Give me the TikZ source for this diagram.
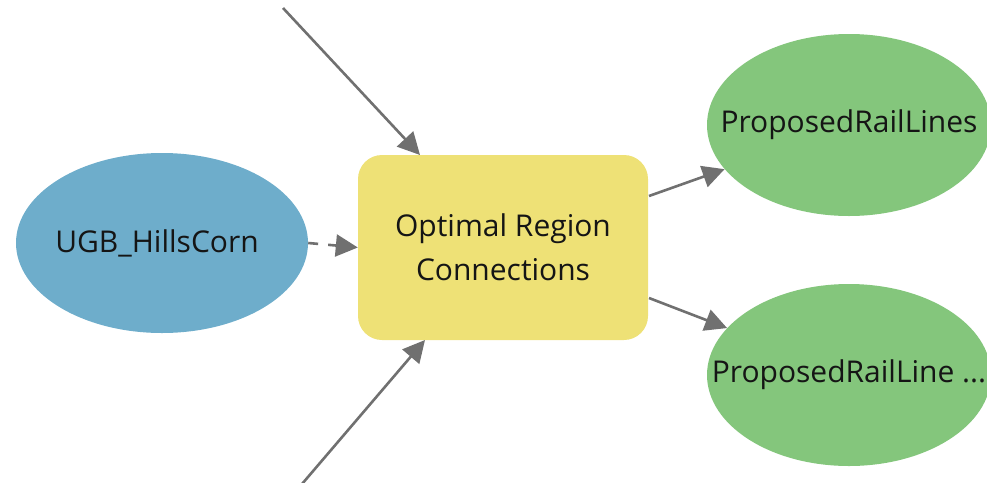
\documentclass[tikz,border=0pt]{standalone}
\usepackage{fontspec}
\setmainfont{Open Sans}
\usetikzlibrary{arrows.meta,shapes.geometric}
\definecolor{bluefill}{HTML}{6EADCB}
\definecolor{yellowfill}{HTML}{EEE176}
\definecolor{greenfill}{HTML}{84C67C}
\definecolor{arrowgray}{HTML}{707070}
\definecolor{textcol}{HTML}{151515}
\tikzset{
  labeltext/.style={text=textcol, font=\fontsize{30}{30}\selectfont, inner sep=0pt},
  inputdata/.style={ellipse, fill=bluefill, minimum width=292pt, minimum height=180pt, inner sep=0pt},
  tool/.style={rectangle, rounded corners=24pt, fill=yellowfill, minimum width=290pt, minimum height=185pt, inner sep=0pt},
  outdata/.style={ellipse, fill=greenfill, minimum width=284pt, minimum height=182pt, inner sep=0pt},
  conn/.style={draw=arrowgray, line width=2.6pt, -{Triangle[length=22pt,width=22pt]}},
}
\begin{document}
\begin{tikzpicture}[x=1pt,y=-1pt]
\useasboundingbox (0,0) rectangle (987,482);
\node[inputdata, label={[labeltext, xshift=-5pt]center:UGB\_HillsCorn}] (ugb) at (162,243) {};
\node[tool, label={[labeltext, align=center, font=\fontsize{30}{44}\selectfont]center:Optimal Region\\Connections}] (orc) at (503,247.5) {};
\node[outdata, label={[labeltext]center:ProposedRailLines}] (prl1) at (849,125) {};
\node[outdata, label={[labeltext]center:ProposedRailLine ...}] (prl2) at (849,375) {};
\coordinate (topin) at (283,8);
\coordinate (botin) at (302,484);
\draw[conn] (topin) -- (420,155);
\draw[conn] (botin) -- (425,340);
\draw[conn, dash pattern=on 10pt off 10pt] (ugb.east) -- (orc.west);
\draw[conn] (649,196) -- (prl1);
\draw[conn] (649,298) -- (prl2);
\end{tikzpicture}
\end{document}
